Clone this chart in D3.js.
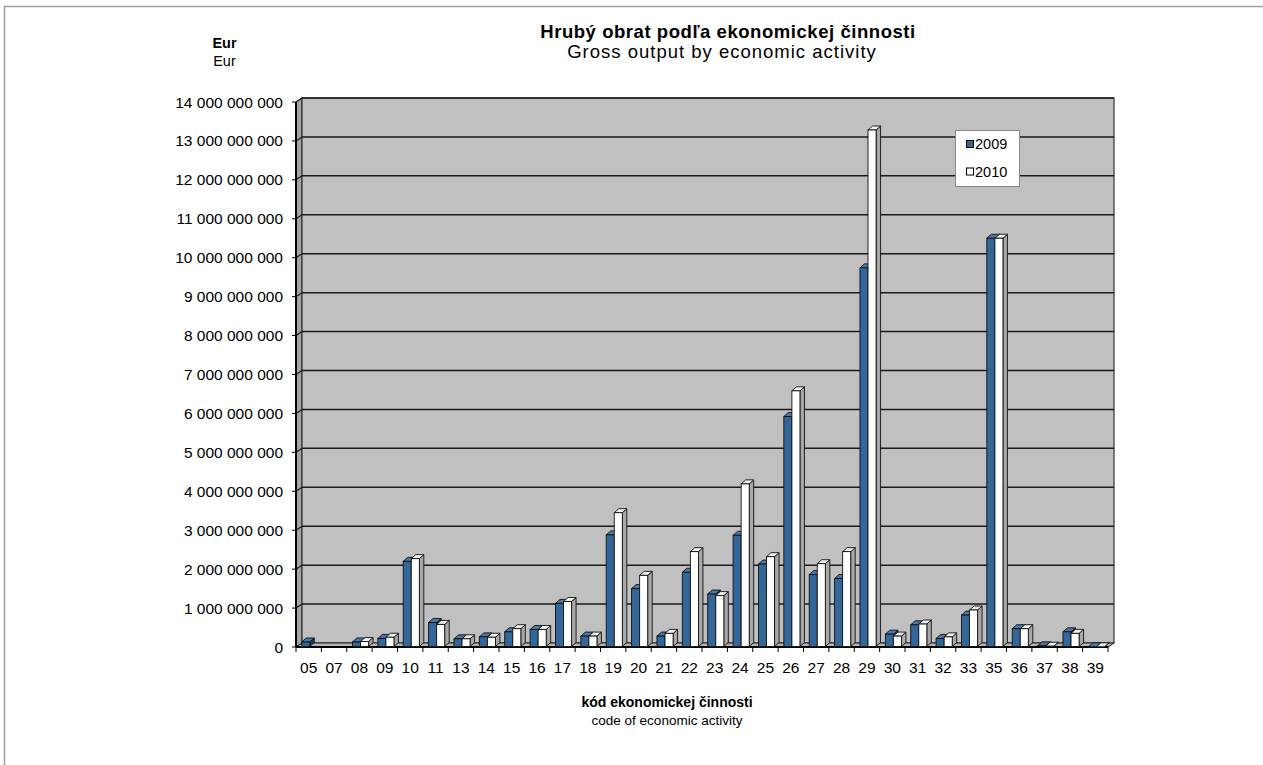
<!DOCTYPE html>
<html>
<head>
<meta charset="utf-8">
<script src="https://cdn.jsdelivr.net/npm/d3@7"></script>
<style>
html,body{margin:0;padding:0;background:#fff;}
svg{display:block;font-family:"Liberation Sans",Arial,sans-serif;}
</style>
</head>
<body>
<svg id="chart" width="1263" height="765"></svg>
<script>
const categories = ["05","07","08","09","10","11","13","14","15","16","17","18","19","20","21","22","23","24","25","26","27","28","29","30","31","32","33","35","36","37","38","39"];
const series = ["2009","2010"];
const values2009 = [130e6,0,130e6,220e6,2200e6,630e6,210e6,260e6,390e6,450e6,1120e6,280e6,2880e6,1500e6,280e6,1920e6,1360e6,2870e6,2130e6,5920e6,1860e6,1760e6,9740e6,330e6,570e6,220e6,820e6,10500e6,470e6,30e6,390e6,5e6];
const values2010 = [0,0,140e6,250e6,2270e6,580e6,210e6,250e6,470e6,450e6,1170e6,280e6,3450e6,1840e6,350e6,2450e6,1320e6,4190e6,2320e6,6580e6,2140e6,2450e6,13280e6,280e6,590e6,260e6,950e6,10500e6,470e6,20e6,350e6,5e6];
const yTickValues = [0,1e9,2e9,3e9,4e9,5e9,6e9,7e9,8e9,9e9,10e9,11e9,12e9,13e9,14e9];
const yTickLabels = ["0","1 000 000 000","2 000 000 000","3 000 000 000","4 000 000 000","5 000 000 000","6 000 000 000","7 000 000 000","8 000 000 000","9 000 000 000","10 000 000 000","11 000 000 000","12 000 000 000","13 000 000 000","14 000 000 000"];
const titleLines = ["Hrubý obrat podľa ekonomickej činnosti","Gross output by economic activity"];
const yTitleLines = ["Eur","Eur"];
const xTitleLines = ["kód ekonomickej činnosti","code of economic activity"];

const svg = d3.select("#chart");

// frame lines
svg.append("line").attr("x1",4).attr("y1",6.5).attr("x2",1263).attr("y2",6.5).attr("stroke","#a0a0a0").attr("stroke-width",1.5);
svg.append("line").attr("x1",4.5).attr("y1",6).attr("x2",4.5).attr("y2",765).attr("stroke","#a0a0a0").attr("stroke-width",1.5);

const X0 = 296, X1 = 1108, YB = 647, YT = 102;
const WDX = 6, WDY = 4;      // wall depth
const BDX = 4.5, BDY = 4;    // bar depth

const y = d3.scaleLinear().domain([0,14e9]).range([YB,YT]);
const x = d3.scaleBand().domain(categories).range([X0,X1]).padding(0);
const xs = d3.scaleBand().domain(series).range([x.bandwidth()*0.225, x.bandwidth()*0.86]).padding(0);

const g = svg.append("g");

// left wall
g.append("polygon")
  .attr("points",[[X0,y(14e9)],[X0+WDX,y(14e9)-WDY],[X0+WDX,YB-WDY],[X0,YB]].map(p=>p.join(",")).join(" "))
  .attr("fill","#a4a4a4").attr("stroke","#222").attr("stroke-width",1);
// back wall
g.append("rect").attr("x",X0+WDX).attr("y",y(14e9)-WDY).attr("width",X1-X0).attr("height",YB-y(14e9))
  .attr("fill","#c0c0c0").attr("stroke","#333").attr("stroke-width",1.2);
// floor
g.append("polygon")
  .attr("points",[[X0,YB],[X1,YB],[X1+WDX,YB-WDY],[X0+WDX,YB-WDY]].map(p=>p.join(",")).join(" "))
  .attr("fill","#b4b4b4").attr("stroke","#222").attr("stroke-width",1);

// gridlines
yTickValues.filter(v=>v>0).forEach(v=>{
  g.append("line").attr("x1",X0+WDX).attr("x2",X1+WDX).attr("y1",y(v)-WDY).attr("y2",y(v)-WDY)
    .attr("stroke","#1a1a1a").attr("stroke-width",1.5);
  g.append("line").attr("x1",X0).attr("x2",X0+WDX).attr("y1",y(v)).attr("y2",y(v)-WDY)
    .attr("stroke","#1a1a1a").attr("stroke-width",1.2);
});

// axes lines
g.append("line").attr("x1",X0).attr("x2",X0).attr("y1",y(14e9)).attr("y2",YB).attr("stroke","#000").attr("stroke-width",2);
g.append("line").attr("x1",X0).attr("x2",X1).attr("y1",YB).attr("y2",YB).attr("stroke","#000").attr("stroke-width",2.2);
yTickValues.forEach((v,i)=>{
  g.append("line").attr("x1",X0-4).attr("x2",X0).attr("y1",y(v)).attr("y2",y(v)).attr("stroke","#000").attr("stroke-width",1);
  g.append("text").attr("x",283).attr("y",y(v)+5.5).attr("text-anchor","end")
    .attr("font-size","15.5px").attr("fill","#000").text(yTickLabels[i]);
});
categories.forEach((c,i)=>{
  g.append("line").attr("x1",x(c)).attr("x2",x(c)).attr("y1",YB).attr("y2",YB+5).attr("stroke","#000").attr("stroke-width",1);
  g.append("text").attr("x",x(c)+x.bandwidth()/2).attr("y",673).attr("text-anchor","middle")
    .attr("font-size","15.5px").attr("fill","#000").text(c);
});
g.append("line").attr("x1",X1).attr("x2",X1).attr("y1",YB).attr("y2",YB+5).attr("stroke","#000").attr("stroke-width",1);

// bars
const colors = {
  "2009": {front:"#336699", top:"#4a78aa", side:"#1d3d63"},
  "2010": {front:"#ffffff", top:"#efefef", side:"#a8a8a8"}
};
const data = categories.map((c,i)=>({cat:c, vals:{"2009":values2009[i],"2010":values2010[i]}}));
const barG = g.append("g");
data.forEach(d=>{
  series.forEach(s=>{
    const v = d.vals[s];
    if (!(v > 0)) return;
    const x0 = x(d.cat)+xs(s), w = xs.bandwidth();
    const yt = y(v), yb = YB-0.5;
    const col = colors[s];
    const sw = 0.9;
    barG.append("polygon")
      .attr("points",[[x0+w,yt],[x0+w+BDX,yt-BDY],[x0+w+BDX,yb-BDY],[x0+w,yb]].map(p=>p.join(",")).join(" "))
      .attr("fill",col.side).attr("stroke","#111").attr("stroke-width",sw);
    barG.append("polygon")
      .attr("points",[[x0,yt],[x0+BDX,yt-BDY],[x0+w+BDX,yt-BDY],[x0+w,yt]].map(p=>p.join(",")).join(" "))
      .attr("fill",col.top).attr("stroke","#111").attr("stroke-width",sw);
    barG.append("rect").attr("x",x0).attr("y",yt).attr("width",w).attr("height",Math.max(0,yb-yt))
      .attr("fill",col.front).attr("stroke","#111").attr("stroke-width",sw);
  });
});

// legend
const lg = svg.append("g");
lg.append("rect").attr("x",955.5).attr("y",130.5).attr("width",64).attr("height",56)
  .attr("fill","#fff").attr("stroke","#8a8a8a").attr("stroke-width",1);
series.forEach((s,i)=>{
  const cy = 144 + i*27.5;
  lg.append("rect").attr("x",966.5).attr("y",cy-3.5).attr("width",7).attr("height",7)
    .attr("fill",colors[s].front).attr("stroke","#000").attr("stroke-width",1);
  lg.append("text").attr("x",975).attr("y",cy+5.2).attr("font-size","14.5px").attr("fill","#000").text(s);
});

// titles
svg.append("text").attr("x",728).attr("y",38).attr("text-anchor","middle").attr("font-size","18.5px")
  .attr("letter-spacing","0.55px").attr("font-weight","bold").text(titleLines[0]);
svg.append("text").attr("x",722).attr("y",58).attr("text-anchor","middle").attr("font-size","18.5px")
  .attr("letter-spacing","1px").text(titleLines[1]);
svg.append("text").attr("x",224.5).attr("y",47.5).attr("text-anchor","middle").attr("font-size","14.5px")
  .attr("font-weight","bold").text(yTitleLines[0]);
svg.append("text").attr("x",224.5).attr("y",65.5).attr("text-anchor","middle").attr("font-size","14.5px")
  .text(yTitleLines[1]);
svg.append("text").attr("x",667).attr("y",707).attr("text-anchor","middle").attr("font-size","14px")
  .attr("font-weight","bold").text(xTitleLines[0]);
svg.append("text").attr("x",667).attr("y",725).attr("text-anchor","middle").attr("font-size","13.5px")
  .text(xTitleLines[1]);
</script>
</body>
</html>
